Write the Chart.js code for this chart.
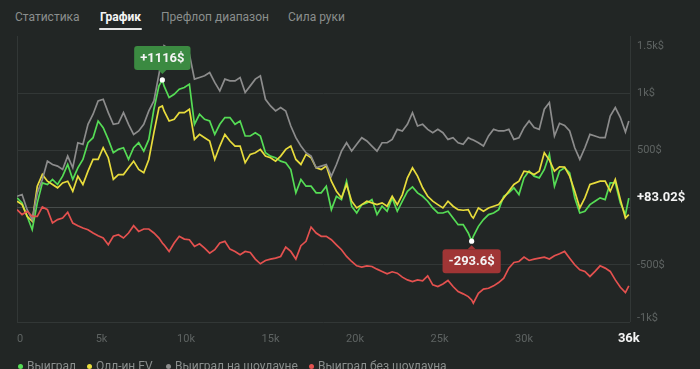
<!DOCTYPE html>
<html>
<head>
<meta charset="utf-8">
<script src="https://cdn.jsdelivr.net/npm/chart.js@4/dist/chart.umd.min.js"></script>
<style>
  html, body { margin: 0; padding: 0; width: 700px; height: 369px; overflow: hidden; background: #222625; font-family: Roboto, sans-serif; }
  #chart { position: absolute; left: 0; top: 0; }
  .tab { position: absolute; top: 8px; font-size: 12px; line-height: 18px; color: #8a8e8d; white-space: nowrap; }
  .tab.on { color: #f4f4f4; font-weight: bold; }
  .tab.on::after { content: ""; position: absolute; left: -1px; right: -1px; top: 20px; height: 2px; border-radius: 1px; background: #e6e6e6; }
  .lg { position: absolute; top: 357px; font-size: 12px; line-height: 18px; color: #8a8e8d; white-space: nowrap; }
  .lg i { display: inline-block; width: 5px; height: 5px; border-radius: 50%; margin-right: 4px; vertical-align: 1px; }
</style>
</head>
<body>
<div class="tab" style="left:15px">Статистика</div>
<div class="tab on" style="left:100px">График</div>
<div class="tab" style="left:161px">Префлоп диапазон</div>
<div class="tab" style="left:288px">Сила руки</div>

<canvas id="chart" width="700" height="369"></canvas>

<div class="lg" style="left:18px"><i style="background:#55dc55"></i>Выиграл</div>
<div class="lg" style="left:87px"><i style="background:#e8dc3c"></i>Олл-ин EV</div>
<div class="lg" style="left:166px"><i style="background:#8c8c8c"></i>Выиграл на шоудауне</div>
<div class="lg" style="left:309px"><i style="background:#e4514f"></i>Выиграл без шоудауна</div>

<script>
// hands played (x axis)
const HANDS = [
  0, 300, 600, 900, 1200, 1500, 1800, 2100, 2400, 2700, 3000, 3300, 3600, 3900, 4200, 4500, 4800, 5100, 5400, 5700,
  6000, 6300, 6600, 6900, 7200, 7500, 7800, 8100, 8400, 8600,
  8700, 9000, 9300, 9600, 9900, 10200, 10500, 10800, 11100, 11400, 11700, 12000, 12300, 12600, 12900, 13200, 13500,
  13800, 14100, 14400, 14700, 15000, 15300, 15600, 15900, 16200, 16500, 16800, 17100, 17400, 17700, 18000, 18300,
  18600, 18900, 19200, 19500, 19800, 20100, 20400, 20700, 21000, 21300, 21600, 21900, 22200, 22500, 22800, 23100,
  23400, 23700, 24000, 24300, 24600, 24900, 25200, 25500, 25800, 26100, 26400, 26700, 26900,
  27000, 27300, 27600, 27900, 28200, 28500, 28800, 29100, 29400, 29700, 30000, 30300, 30600, 30900, 31200, 31500,
  31800, 32100, 32400, 32700, 33000, 33300, 33600, 33900, 34200, 34500, 34800, 35100, 35400, 35700, 36000, 36200
];

// $ won
const WON = [
  85, 41, -76, -193, 41, 216, 202, 246, 202, 275, 377, 246, 348, 421, 567, 611, 757, 699, 596, 480,
  509, 523, 421, 523, 567, 494, 596, 860, 1064, 1116,
  1064, 962, 991, 1035, 1050, 1079, 728, 816, 772, 757, 640, 728, 787, 787, 728, 757, 626,
  626, 655, 626, 480, 450, 436, 406, 392, 333, 129, 246, 187, 187, 129, 129, 187,
  -18, 99, 70, 231, 12, -47, 26, 41, 70, -61, 12, -32, 85, -32, 56, 143,
  181, 129, 99, 56, -3, -47, -47, -32, -91, -149, -149, -222, -293.6,
  -251, -164, -105, -61, -47, -18, 99, 129, 173, 114, 260, 319, 275, 260, 333, 465,
  187, 319, 348, 304, 85, -47, -32, 26, 56, 85, 70, 216, 216, 41, -61, 83.02
];

// all-in EV
const ALLIN_EV = [
  56, 26, -76, -120, 187, 289, 231, 202, 173, 216, 231, 143, 275, 202, 319, 421, 421, 523, 436, 246,
  289, 289, 348, 406, 333, 304, 421, 655, 874, 889,
  845, 757, 772, 830, 830, 860, 596, 640, 611, 582, 421, 538, 640, 582, 538, 538, 392,
  465, 480, 509, 450, 436, 406, 450, 509, 538, 421, 377, 465, 436, 348, 333, 363,
  231, 143, 85, 202, 56, -3, 26, 56, 41, 26, 41, 12, 99, 26, 114,
  260, 348, 275, 173, 99, 56, 26, -3, 56, 12, -18, -23, -18, -76,
  -91, -3, -32, -3, 12, 26, 85, 143, 202, 231, 319, 310, 289, 319, 480,
  415, 319, 357, 354, 275, 143, -3, 85, 202, 216, 231, 231, 143, 246, 70, -91, -61
];

// won at showdown
const SHOWDOWN = [
  99, 114, -18, -105, 129, 246, 406, 377, 363, 333, 450, 348, 567, 553, 728, 816, 933, 947, 830, 728,
  737, 830, 728, 640, 670, 728, 845, 933, 1167, 1327,
  1415, 1386, 1401, 1371, 1357, 1342, 1123, 1137, 1152, 1181, 1094, 1020, 1123, 1108, 1108, 1137, 1006,
  1064, 1123, 1152, 947, 889, 845, 874, 845, 713, 611, 538, 480, 450, 348, 363, 377,
  275, 377, 494, 567, 494, 553, 611, 582, 538, 494, 567, 567, 596, 684, 670,
  728, 830, 713, 728, 684, 655, 684, 655, 596, 611, 567, 553, 611, 596,
  591, 567, 538, 626, 684, 670, 670, 684, 596, 611, 699, 757, 699, 684, 860,
  918, 626, 737, 719, 670, 523, 421, 523, 640, 626, 611, 611, 801, 874, 787, 661, 757
];

// won without showdown
const NON_SHOWDOWN = [
  -18, -61, -32, -76, -76, 6, -18, -135, -105, -91, -41, -135, -158, -178, -193, -222, -246, -266, -325, -251,
  -237, -266, -222, -158, -208, -187, -187, -222, -266, -310,
  -325, -383, -310, -251, -275, -281, -339, -316, -354, -398, -368, -310, -295, -363, -383, -412, -383,
  -392, -450, -491, -462, -450, -442, -427, -345, -383, -450, -333, -295, -170, -222, -251, -251,
  -281, -325, -368, -427, -471, -509, -520, -509, -515, -538, -558, -579, -561, -573, -608,
  -632, -646, -632, -640, -596, -675, -690, -667, -637, -690, -734, -754, -778, -807,
  -836, -749, -713, -705, -684, -655, -617, -529, -480, -471, -433, -462, -450, -442, -433, -450,
  -421, -404, -383, -442, -500, -544, -558, -602, -558, -509, -529, -558, -632, -696, -743, -684
];

const Y_TICKS = [-1000, -500, 0, 500, 1000, 1500];
const Y_LABELS = ['-1k$', '-500$', '', '500$', '1k$', '1.5k$'];
const X_TICKS = [0, 5000, 10000, 15000, 20000, 25000, 30000];
const X_LABELS = ['0', '5k', '10k', '15k', '20k', '25k', '30k'];
const LAST_LABEL = '36k';

const GRID = '#323736';
const ZERO_LINE = '#474c4b';
const LABEL = '#5e6362';
const FONT = 'Roboto';

const fmt = v => (v > 0 ? '+' : '') + v + '$';
const pts = arr => HANDS.map((h, i) => ({ x: h, y: arr[i] }));

function roundRect(ctx, x, y, w, h, r) {
  ctx.beginPath();
  ctx.moveTo(x + r, y);
  ctx.arcTo(x + w, y, x + w, y + h, r);
  ctx.arcTo(x + w, y + h, x, y + h, r);
  ctx.arcTo(x, y + h, x, y, r);
  ctx.arcTo(x, y, x + w, y, r);
  ctx.closePath();
}

// tag with a pointer, above (up=true) or below a point
function tag(ctx, px, py, text, fill, up) {
  ctx.font = `bold 13px ${FONT}`;
  const w = ctx.measureText(text).width + 12, h = 24;
  const top = up ? py - 10 - h : py + 8;
  ctx.fillStyle = fill;
  roundRect(ctx, px - w / 2, top, w, h, 3);
  ctx.fill();
  const base = up ? top + h : top;
  ctx.beginPath();
  ctx.moveTo(px - 4, base);
  ctx.lineTo(px + 4, base);
  ctx.lineTo(px, up ? base + 4 : base - 4);
  ctx.closePath();
  ctx.fill();
  ctx.fillStyle = '#f4f4f4';
  ctx.textAlign = 'center';
  ctx.textBaseline = 'middle';
  ctx.fillText(text, px, top + h / 2 + 0.5);
  ctx.fillStyle = '#ffffff';
  ctx.beginPath();
  ctx.arc(px, py, 2.6, 0, Math.PI * 2);
  ctx.fill();
}

const overlay = {
  id: 'overlay',
  afterDatasetsDraw(chart) {
    const { ctx, chartArea: a, scales: { x, y } } = chart;
    ctx.save();

    // right axis labels, kept inside the plot height
    ctx.font = `11px ${FONT}`;
    ctx.fillStyle = LABEL;
    ctx.textAlign = 'left';
    ctx.textBaseline = 'middle';
    Y_TICKS.forEach((v, i) => {
      if (!Y_LABELS[i]) return;
      const py = Math.min(Math.max(y.getPixelForValue(v), a.top + 10), a.bottom - 4);
      ctx.fillText(Y_LABELS[i], a.right + 7, py);
    });

    // bottom labels
    X_TICKS.forEach((v, i) => {
      const w = ctx.measureText(X_LABELS[i]).width;
      const px = Math.max(x.getPixelForValue(v) - w / 2, a.left);
      ctx.fillText(X_LABELS[i], px, a.bottom + 17);
    });
    const last = HANDS.length - 1;
    ctx.font = `bold 13px ${FONT}`;
    ctx.fillStyle = '#f4f4f4';
    ctx.textAlign = 'center';
    ctx.fillText(LAST_LABEL, x.getPixelForValue(HANDS[last]), a.bottom + 17);

    // current value
    ctx.textAlign = 'left';
    ctx.fillText(fmt(WON[last]), a.right + 7, y.getPixelForValue(WON[last]));

    // max / min tags
    const hi = WON.indexOf(Math.max(...WON));
    const lo = WON.indexOf(Math.min(...WON));
    tag(ctx, x.getPixelForValue(HANDS[hi]), y.getPixelForValue(WON[hi]), fmt(WON[hi]), '#3b8a41', true);
    tag(ctx, x.getPixelForValue(HANDS[lo]), y.getPixelForValue(WON[lo]), fmt(WON[lo]), '#a03535', false);

    ctx.restore();
  }
};

const line = (data, color) => ({
  data: pts(data),
  borderColor: color,
  borderWidth: 1.7,
  pointRadius: 0,
  tension: 0,
  fill: false
});

new Chart(document.getElementById('chart'), {
  type: 'line',
  data: {
    datasets: [
      line(NON_SHOWDOWN, '#e4514f'),
      line(SHOWDOWN, '#8c8c8c'),
      line(ALLIN_EV, '#e8dc3c'),
      line(WON, '#55dc55')
    ]
  },
  options: {
    responsive: false,
    animation: false,
    layout: { padding: { left: 17, right: 70, top: 36, bottom: 47 } },
    plugins: { legend: { display: false }, tooltip: { enabled: false } },
    scales: {
      x: {
        type: 'linear',
        min: 0,
        max: 36270,
        border: { display: false },
        ticks: { display: false },
        grid: { color: GRID, drawTicks: false },
        afterBuildTicks: s => { s.ticks = [{ value: 0 }, { value: 36270 }]; },
        afterFit: s => { s.height = 0; }
      },
      y: {
        position: 'right',
        min: -1000,
        max: 1500,
        border: { display: false },
        ticks: { display: false },
        grid: {
          drawTicks: false,
          color: c => c.tick.value === 1500 ? 'rgba(0,0,0,0)' : (c.tick.value === 0 ? ZERO_LINE : GRID)
        },
        afterBuildTicks: s => { s.ticks = Y_TICKS.map(v => ({ value: v })); },
        afterFit: s => { s.width = 0; }
      }
    }
  },
  plugins: [overlay]
});
</script>
</body>
</html>
